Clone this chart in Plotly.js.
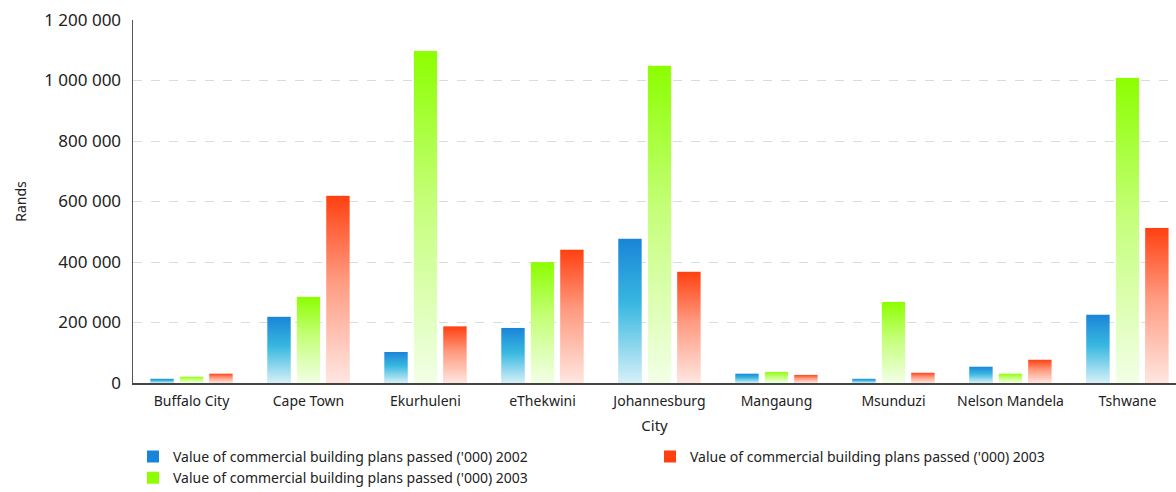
<!DOCTYPE html>
<html><head><meta charset="utf-8">
<script src="https://cdn.plot.ly/plotly-3.0.1.min.js"></script>
<style>body{margin:0;background:#fff}#c{width:1176px;height:492px}</style>
</head><body><div id="c"></div>
<script>
const cities = ["Buffalo City","Cape Town","Ekurhuleni","eThekwini","Johannesburg","Mangaung","Msunduzi","Nelson Mandela","Tshwane"];
const plans2002 = [13000, 218000, 101000, 181000, 476000, 30000, 13000, 53000, 225000];
const plans2003green = [20000, 284000, 1097000, 398000, 1048000, 36000, 267000, 30000, 1008000];
const plans2003red = [30000, 618000, 186000, 440000, 367000, 26000, 33000, 76000, 512000];
const seriesNames = ["Value of commercial building plans passed ('000) 2002","Value of commercial building plans passed ('000) 2003","Value of commercial building plans passed ('000) 2003"];

const series = [
  {y: plans2002, name: seriesNames[0], top:'#1a84d8', mid:'#38b8e0', bot:'#d6f0f8', off:-0.252, rank:1},
  {y: plans2003green, name: seriesNames[1], top:'#8cff00', mid:'#c4ff78', bot:'#f2ffe6', off:0, rank:3},
  {y: plans2003red, name: seriesNames[2], top:'#ff4010', mid:'#ff9a80', bot:'#ffe6e0', off:0.252, rank:2}
];
const W = 0.19;
function grad(top, mid, bot){
  const svg = '<svg xmlns="http://www.w3.org/2000/svg" width="10" height="100" viewBox="0 0 10 100" preserveAspectRatio="none">'+
   '<defs><linearGradient id="g" x1="0" y1="0" x2="0" y2="1">'+
   '<stop offset="0" stop-color="'+top+'"/><stop offset="0.45" stop-color="'+mid+'"/><stop offset="1" stop-color="'+bot+'"/>'+
   '</linearGradient></defs><rect x="0" y="0" width="10" height="100" fill="url(#g)"/></svg>';
  return 'data:image/svg+xml;charset=utf-8,' + encodeURIComponent(svg);
}
const traces = series.map(s => ({
  type:'bar', x: cities, y: s.y, name: s.name, width: W, offset: s.off - W/2,
  marker:{color: s.top, line:{width:0}}, legendrank: s.rank, hoverinfo:'x+y'
}));
const images = [];
series.forEach(s => {
  const src = grad(s.top, s.mid, s.bot);
  s.y.forEach((v, i) => {
    images.push({source: src, xref:'x', yref:'y', x: i + s.off - W/2 - 0.006, y: v + 1500, sizex: W + 0.012, sizey: v + 1500,
      xanchor:'left', yanchor:'top', sizing:'stretch', layer:'above'});
  });
});
const layout = {
  width:1176, height:492,
  margin:{l:133, r:0, t:20, b:109},
  paper_bgcolor:'#fff', plot_bgcolor:'#fff',
  font:{family:'"Noto Sans", "Open Sans", sans-serif', size:14, color:'#222'},
  separators:'. ',
  barmode:'group',
  showlegend:true,
  images: images,
  xaxis:{type:'category', range:[-0.5, 8.415], showgrid:false, showline:true, linecolor:'#444', linewidth:2,
    ticks:'', ticklabelstandoff:4, tickfont:{size:14, color:'#222'}, title:{text:'City', font:{size:15, color:'#222'}, standoff:12}},
  yaxis:{range:[0, 1200000], dtick:200000, tickformat:',d', showgrid:true, gridcolor:'#d2dfda', griddash:'dash', gridwidth:1,
    showline:true, linecolor:'#555', linewidth:1.5, zeroline:false, ticks:'', ticklabelstandoff:7,
    tickfont:{size:17, color:'#222'}, title:{text:'Rands', font:{size:14, color:'#222'}, standoff:14}},
  legend:{orientation:'h', xref:'paper', x:0, xanchor:'left', yref:'container', y:0.104, yanchor:'top', entrywidth:472, entrywidthmode:'pixels',
    font:{size:14, color:'#222'}, traceorder:'normal', itemsizing:'constant', tracegroupgap:0}
};
Plotly.newPlot('c', traces, layout, {displayModeBar:false, staticPlot:true});
</script></body></html>
